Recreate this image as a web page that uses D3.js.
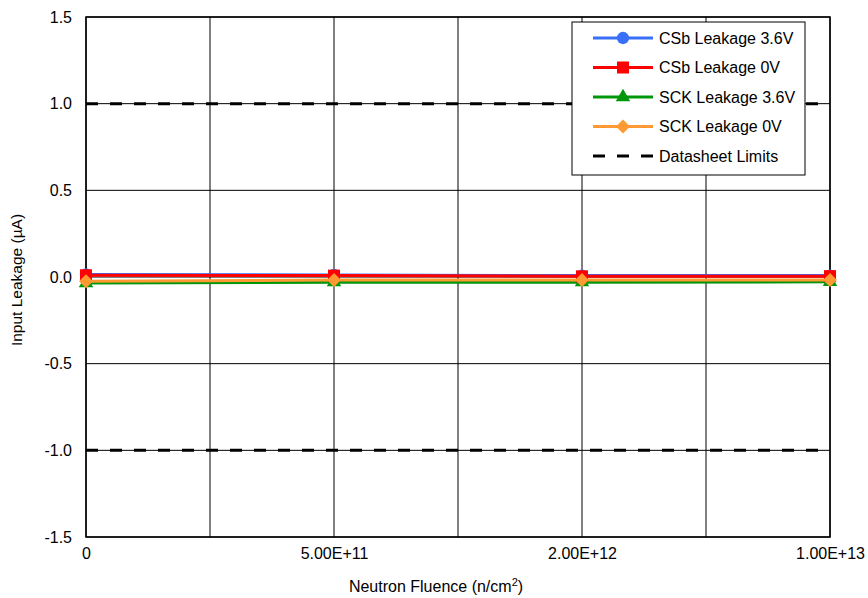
<!DOCTYPE html>
<html>
<head>
<meta charset="utf-8">
<script src="https://cdn.jsdelivr.net/npm/d3@7"></script>
<style>
body{margin:0;background:#fff;}
svg{font-family:"Liberation Sans",Arial,sans-serif;}
</style>
</head>
<body>
<svg id="chart" width="868" height="598"></svg>
<script>
const categories = ["0", "5.00E+11", "2.00E+12", "1.00E+13"];
const csb36 = [0.015, 0.012, 0.008, 0.008];
const csb0 = [0.010, 0.008, 0.004, 0.005];
const sck36 = [-0.035, -0.030, -0.030, -0.028];
const sck0 = [-0.025, -0.018, -0.018, -0.018];
const limits = [1.0, -1.0];
const yTicks = [-1.5, -1.0, -0.5, 0.0, 0.5, 1.0, 1.5];
const seriesNames = ["CSb Leakage 3.6V", "CSb Leakage 0V", "SCK Leakage 3.6V", "SCK Leakage 0V", "Datasheet Limits"];

const FS = 16;
const diamond = {
  draw(ctx, size) {
    const r = Math.sqrt(size) / 2 * 1.4;
    ctx.moveTo(0, -r); ctx.lineTo(r, 0); ctx.lineTo(0, r); ctx.lineTo(-r, 0); ctx.closePath();
  }
};
const series = [
  {name: seriesNames[0], values: csb36, color: "#3a6ff7", symbol: d3.symbolCircle, size: 120},
  {name: seriesNames[1], values: csb0, color: "#ff0000", symbol: d3.symbolSquare, size: 144},
  {name: seriesNames[2], values: sck36, color: "#00960a", symbol: d3.symbolTriangle, size: 90},
  {name: seriesNames[3], values: sck0, color: "#ff9933", symbol: diamond, size: 100}
];

const svg = d3.select("#chart");
const L = 86, R = 830, T = 17, B = 537;
const x = d3.scaleLinear().domain([0, categories.length - 1]).range([L, R]);
const y = d3.scaleLinear().domain([-1.5, 1.5]).range([B, T]);

// grid
const g = svg.append("g");
d3.range(0, categories.length - 0.99, 0.5).forEach(v => {
  g.append("line").attr("x1", x(v)).attr("x2", x(v)).attr("y1", T).attr("y2", B)
    .attr("stroke", "#000").attr("stroke-width", 1);
});
yTicks.forEach(v => {
  g.append("line").attr("x1", L).attr("x2", R).attr("y1", y(v)).attr("y2", y(v))
    .attr("stroke", "#000").attr("stroke-width", 1);
});
svg.append("rect").attr("x", L).attr("y", T).attr("width", R - L).attr("height", B - T)
  .attr("fill", "none").attr("stroke", "#000").attr("stroke-width", 1.5);

// axes (labels only)
const yAxis = svg.append("g").attr("transform", `translate(${L},0)`)
  .call(d3.axisLeft(y).tickValues(yTicks).tickFormat(v => v.toFixed(1)).tickSize(0).tickPadding(14));
yAxis.select(".domain").remove();
yAxis.selectAll("text").attr("font-size", FS).attr("fill", "#000").style("font-family", "Liberation Sans, Arial, sans-serif");

const xAxis = svg.append("g").attr("transform", `translate(0,${B})`)
  .call(d3.axisBottom(x).tickValues(d3.range(categories.length)).tickFormat(i => categories[i]).tickSize(0).tickPadding(11));
xAxis.select(".domain").remove();
xAxis.selectAll("text").attr("font-size", FS).attr("fill", "#000").style("font-family", "Liberation Sans, Arial, sans-serif");

// limits
limits.forEach(v => {
  svg.append("line").attr("x1", L).attr("x2", R).attr("y1", y(v)).attr("y2", y(v))
    .attr("stroke", "#000").attr("stroke-width", 3).attr("stroke-dasharray", "12,12");
});

// series
const line = d3.line().x((d, i) => x(i)).y(d => y(d));
series.forEach(s => {
  svg.append("path").datum(s.values).attr("d", line).attr("fill", "none")
    .attr("stroke", s.color).attr("stroke-width", 3);
});
series.forEach(s => {
  svg.selectAll(null).data(s.values).enter().append("path")
    .attr("d", d3.symbol().type(s.symbol).size(s.size))
    .attr("transform", (d, i) => `translate(${x(i)},${y(d)})`)
    .attr("fill", s.color);
});

// legend
const lg = svg.append("g");
lg.append("rect").attr("x", 572).attr("y", 22).attr("width", 233).attr("height", 153)
  .attr("fill", "#fff").attr("stroke", "#000").attr("stroke-width", 1);
const rowY = i => 38 + i * 29.5;
series.forEach((s, i) => {
  lg.append("line").attr("x1", 593).attr("x2", 653).attr("y1", rowY(i)).attr("y2", rowY(i))
    .attr("stroke", s.color).attr("stroke-width", 3);
  lg.append("path").attr("d", d3.symbol().type(s.symbol).size(s.size))
    .attr("transform", `translate(623,${rowY(i)})`).attr("fill", s.color);
  lg.append("text").attr("x", 659).attr("y", rowY(i)).attr("dy", "0.35em")
    .attr("font-size", FS).attr("fill", "#000").text(s.name);
});
lg.append("line").attr("x1", 593).attr("x2", 653).attr("y1", rowY(4)).attr("y2", rowY(4))
  .attr("stroke", "#000").attr("stroke-width", 3).attr("stroke-dasharray", "12,12");
lg.append("text").attr("x", 659).attr("y", rowY(4)).attr("dy", "0.35em")
  .attr("font-size", FS).attr("fill", "#000").text(seriesNames[4]);

// axis titles
svg.append("text").attr("x", 436).attr("y", 592).attr("text-anchor", "middle")
  .attr("font-size", FS).attr("fill", "#000")
  .html('Neutron Fluence (n/cm<tspan dy="-6" font-size="11">2</tspan><tspan dy="6">)</tspan>');
svg.append("text").attr("transform", "translate(22,280) rotate(-90)").attr("text-anchor", "middle")
  .attr("font-size", FS - 0.5).attr("fill", "#000").text("Input Leakage (µA)");
</script>
</body>
</html>
